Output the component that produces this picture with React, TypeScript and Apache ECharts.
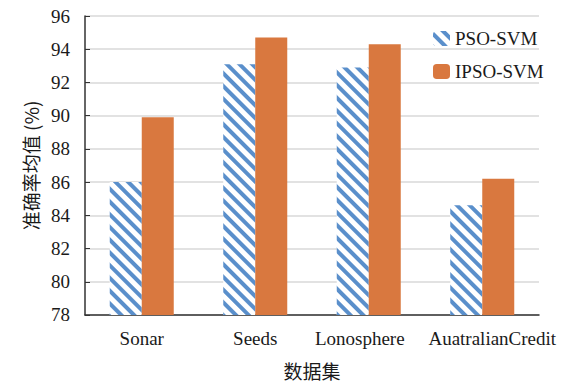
import React, { useEffect, useRef } from "react";
import * as echarts from "echarts";

const categories = ["Sonar", "Seeds", "Lonosphere", "AuatralianCredit"];
const psoSvm = [86.0, 93.1, 92.9, 84.6];
const ipsoSvm = [89.9, 94.7, 94.3, 86.2];
const seriesNames = ["PSO-SVM", "IPSO-SVM"];
const yMin = 78;
const yMax = 96;
const yInterval = 2;

const FONT = "Liberation Serif";
const CJK = "Noto Sans CJK SC";

// horizontal label padding (left/right) mimicking the reference's label placement
const labelPads: Record<string, number[]> = {
  Lonosphere: [0, 18, 0, 0],
  AuatralianCredit: [0, 0, 0, 20],
};

export default function App() {
  const ref = useRef<HTMLDivElement>(null);
  useEffect(() => {
    if (!ref.current) return;
    const chart = echarts.init(ref.current, undefined, { renderer: "svg" });
    chart.setOption({
      animation: false,
      textStyle: { fontFamily: FONT },
      grid: { left: 85, right: 29, top: 16, bottom: 68 },
      legend: {
        orient: "vertical",
        left: 428,
        top: 24,
        itemWidth: 17,
        itemHeight: 15,
        itemGap: 14,
        textStyle: { fontSize: 19, color: "#1a1a1a", fontFamily: FONT },
        data: seriesNames,
      },
      xAxis: {
        type: "category",
        data: categories.map((c) =>
          labelPads[c] ? { value: c, textStyle: { padding: labelPads[c] } } : c
        ),
        name: "数据集",
        nameLocation: "middle",
        nameGap: 46,
        nameTextStyle: { fontSize: 19, color: "#1a1a1a", fontFamily: CJK },
        axisLine: { lineStyle: { color: "#333333", width: 1.5 } },
        axisTick: { show: false },
        axisLabel: { interval: 0, fontSize: 19, color: "#1a1a1a", margin: 14, fontFamily: FONT },
      },
      yAxis: {
        type: "value",
        min: yMin,
        max: yMax,
        interval: yInterval,
        name: "准确率均值 (%)",
        nameLocation: "middle",
        nameGap: 44,
        nameRotate: 90,
        nameTextStyle: { fontSize: 19, color: "#1a1a1a", fontFamily: CJK },
        axisLine: { show: true, lineStyle: { color: "#333333", width: 1.5 } },
        axisTick: { show: true, inside: true, length: 5, lineStyle: { color: "#333333" } },
        axisLabel: { fontSize: 19, color: "#1a1a1a", margin: 15, fontFamily: FONT },
        splitLine: { show: true, lineStyle: { color: "#d9d9d9", width: 1.5 } },
      },
      series: [
        {
          name: seriesNames[0],
          type: "bar",
          data: psoSvm,
          barWidth: 32,
          barGap: "0%",
          itemStyle: {
            color: "#ffffff",
            decal: {
              symbol: "rect",
              symbolSize: 1,
              color: "#5A8FCB",
              dashArrayX: [1, 0],
              dashArrayY: [3.5, 5],
              rotation: Math.PI / 4,
            },
          },
        },
        {
          name: seriesNames[1],
          type: "bar",
          data: ipsoSvm,
          barWidth: 32,
          barGap: "0%",
          itemStyle: { color: "#D9783F" },
        },
      ],
    });
    return () => chart.dispose();
  }, []);
  return <div ref={ref} style={{ width: 568, height: 385, position: "absolute", left: 0, top: 0 }} />;
}
